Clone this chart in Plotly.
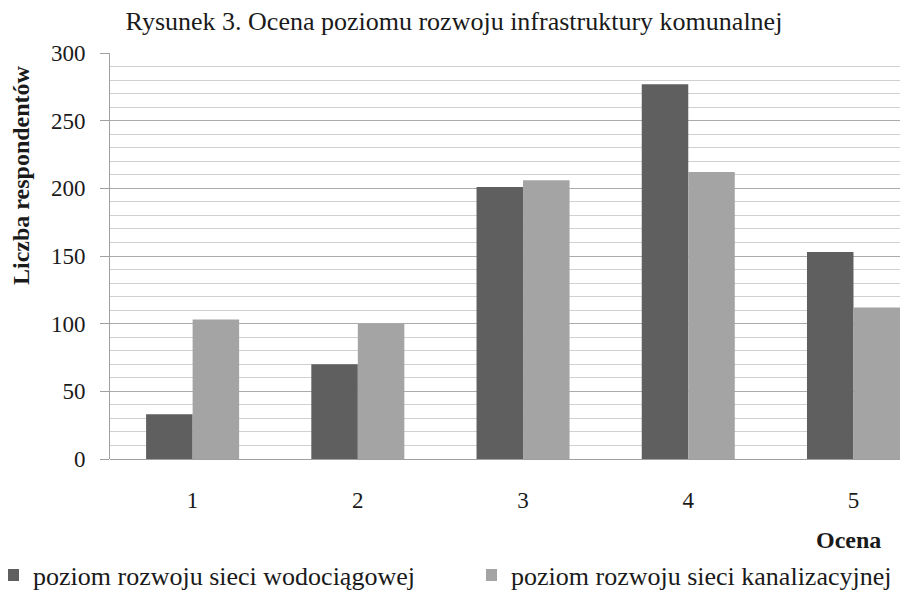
import plotly.graph_objects as go

categories = ["1", "2", "3", "4", "5"]
water = [33, 70, 201, 277, 153]
sewer = [103, 100, 206, 212, 112]
series_names = ["poziom rozwoju sieci wodociągowej", "poziom rozwoju sieci kanalizacyjnej"]
title_text = "Rysunek 3. Ocena poziomu rozwoju infrastruktury komunalnej"
y_title = "Liczba respondentów"
x_title = "Ocena"
y_ticks = [0, 50, 100, 150, 200, 250, 300]

# The page body has an 8px margin, so the figure is laid out 8px left/up of the window.
W, H = 900, 582
FONT = "Liberation Serif, Times New Roman, serif"
TXT = "#1a1a1a"
L, T, B = 102, 45, 131
PW, PH = W - L, H - T - B

fig = go.Figure()
fig.add_trace(go.Bar(x=categories, y=water, name=series_names[0], legend="legend",
                     marker=dict(color="#5f5f5f", line=dict(width=0))))
fig.add_trace(go.Bar(x=categories, y=sewer, name=series_names[1], legend="legend2",
                     marker=dict(color="#a3a4a3", line=dict(width=0))))

legend_common = dict(orientation="h", xanchor="left", xref="container", yref="container",
                     y=(H - 567) / H, yanchor="middle", indentation=-15, itemwidth=30,
                     font=dict(family=FONT, size=26, color=TXT), bgcolor="rgba(0,0,0,0)")

fig.update_layout(
    width=W, height=H,
    margin=dict(l=L, r=0, t=T, b=B, autoexpand=False),
    paper_bgcolor="white", plot_bgcolor="white",
    barmode="group", bargap=0.437, bargroupgap=0,
    font=dict(family=FONT, color=TXT),
    title=dict(text=title_text, x=446 / W, xanchor="center", xref="container",
               y=(H - 13) / H, yanchor="middle", yref="container",
               font=dict(family=FONT, size=26, color=TXT)),
    showlegend=True,
    legend=dict(x=0, **legend_common),
    legend2=dict(x=478 / W, **legend_common),
    xaxis=dict(type="category", range=[-0.5, 4.33], showgrid=False, automargin=False,
               showline=False, ticks="", ticklabelstandoff=25,
               tickfont=dict(family=FONT, size=23, color=TXT)),
    yaxis=dict(range=[0, 300], tickvals=y_ticks, showgrid=True, gridcolor="#ababab",
               gridwidth=1, showline=True, linecolor="#a0a0a0", linewidth=1, automargin=False,
               ticks="outside", ticklen=9, tickcolor="#a0a0a0", ticklabelstandoff=10,
               tickfont=dict(family=FONT, size=23, color=TXT),
               zeroline=True, zerolinecolor="#a0a0a0", zerolinewidth=1,
               minor=dict(dtick=10, showgrid=True, gridcolor="#d0d0d0", gridwidth=1, ticks="")),
    annotations=[
        dict(text="<b>" + y_title + "</b>", textangle=-90, xref="paper", yref="paper",
             x=(13 - L) / PW, y=(PH + T - 167) / PH, xanchor="center", yanchor="middle",
             showarrow=False, font=dict(family=FONT, size=24, color=TXT)),
        dict(text="<b>" + x_title + "</b>", xref="paper", yref="paper",
             x=(875 - L) / PW, y=(PH + T - 532) / PH, xanchor="right", yanchor="middle",
             showarrow=False, font=dict(family=FONT, size=24, color=TXT)),
    ],
)

fig.write_html("out.html")
